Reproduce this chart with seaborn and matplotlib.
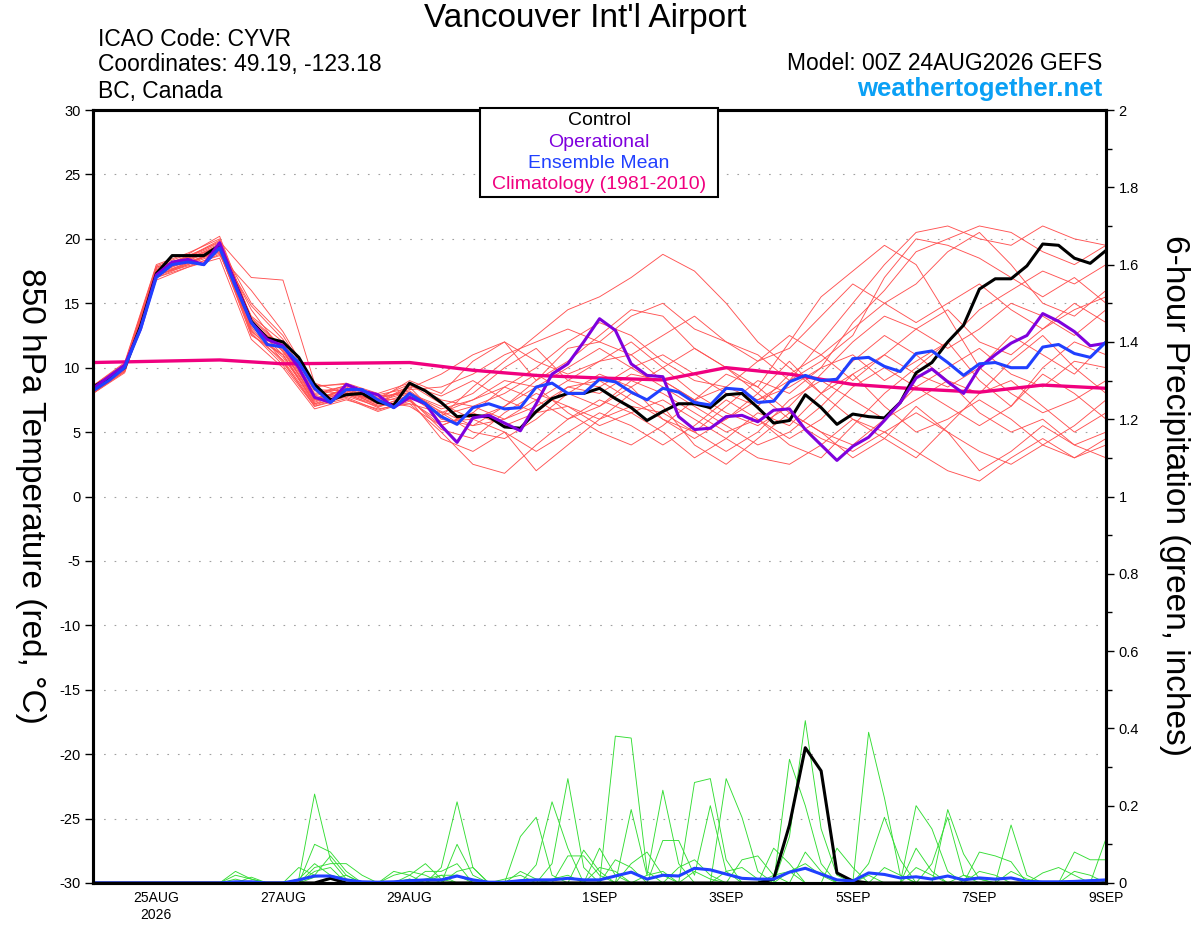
import matplotlib
matplotlib.use("Agg")
import matplotlib.pyplot as plt
from matplotlib.patches import Rectangle
from matplotlib.ticker import MultipleLocator, FuncFormatter
import pandas as pd
import seaborn as sns

# forecast hours from 00Z 24AUG2026
hours6 = list(range(0, 385, 6))
hours12 = list(range(0, 385, 12))
hours24 = list(range(0, 385, 24))

tick_hours = [24, 72, 120, 192, 240, 288, 336, 384]
tick_labels = ["25AUG\n2026", "27AUG", "29AUG", "1SEP", "3SEP", "5SEP", "7SEP", "9SEP"]

# 850 hPa temperature, 6-hourly (deg C)
control_t = [8.5, 9.2, 10.0, 13.2, 17.3, 18.7, 18.7, 18.7,
             19.5, 16.5, 13.6, 12.3, 12.0, 10.8, 8.7, 7.5,
             7.9, 8.0, 7.3, 7.1, 8.8, 8.2, 7.3, 6.2,
             6.3, 6.2, 5.4, 5.3, 6.6, 7.6, 8.0, 8.0,
             8.4, 7.6, 6.9, 5.9, 6.6, 7.2, 7.2, 6.9,
             7.9, 8.0, 6.9, 5.7, 5.9, 7.9, 6.9, 5.6,
             6.4, 6.2, 6.1, 7.3, 9.6, 10.4, 12.0, 13.3,
             16.1, 16.9, 16.9, 17.9, 19.6, 19.5, 18.5, 18.1,
             19.1]
oper_t = [8.4, 9.3, 10.2, 13.0, 17.2, 18.2, 18.4, 18.0,
          19.7, 16.5, 13.5, 12.2, 11.7, 10.0, 7.7, 7.3,
          8.7, 8.2, 7.9, 6.9, 7.7, 7.2, 5.5, 4.2,
          6.1, 6.3, 5.7, 5.1, 7.2, 9.5, 10.3, 12.0,
          13.8, 12.9, 10.3, 9.4, 9.3, 6.2, 5.2, 5.3,
          6.2, 6.3, 5.8, 6.7, 6.8, 5.2, 4.0, 2.8,
          3.9, 4.6, 5.9, 7.3, 9.2, 9.9, 8.9, 8.0,
          10.0, 11.0, 11.9, 12.5, 14.2, 13.6, 12.8, 11.7,
          11.9]
mean_t = [8.2, 9.0, 10.0, 13.0, 17.0, 18.0, 18.2, 18.0,
          19.3, 16.3, 13.5, 11.8, 11.6, 10.4, 8.4, 7.3,
          8.3, 8.3, 7.5, 6.9, 8.0, 7.2, 6.2, 5.6,
          6.9, 7.2, 6.8, 6.9, 8.5, 8.8, 8.0, 8.0,
          9.1, 8.9, 8.1, 7.5, 8.4, 8.1, 7.3, 7.1,
          8.4, 8.3, 7.3, 7.4, 8.9, 9.4, 9.0, 9.1,
          10.7, 10.8, 10.1, 9.7, 11.1, 11.3, 10.4, 9.4,
          10.3, 10.4, 10.0, 10.0, 11.6, 11.8, 11.1, 10.8,
          12.0]
# climatology, daily
clim_t = [10.4, 10.5, 10.6, 10.3, 10.35, 10.4, 9.8, 9.4, 9.2,
          9.05, 10.0, 9.5, 8.7, 8.35, 8.1, 8.65, 8.4]

# ensemble members, 12-hourly
m01 = [8.0, 9.8, 17.2, 18.0, 19.2, 12.8, 11.0, 7.5, 8.4, 7.2, 8.5, 6.0, 5.5, 7.0, 9.0, 11.5, 12.0,
       14.0, 15.0, 13.0, 12.0, 11.0, 9.0, 12.0, 15.0, 18.0, 20.5, 21.0, 20.0, 19.5, 21.0, 20.0, 19.5]
m02 = [8.5, 10.2, 17.8, 18.6, 19.8, 17.0, 16.8, 8.8, 8.0, 7.5, 9.0, 8.0, 10.5, 12.0, 9.0, 10.5, 12.5,
       14.5, 14.0, 11.5, 10.0, 8.5, 12.0, 15.5, 17.5, 19.5, 18.0, 14.0, 10.0, 8.0, 6.5, 7.5, 9.0]
m03 = [8.2, 9.9, 17.0, 17.8, 18.8, 13.5, 10.5, 7.0, 7.8, 7.0, 7.5, 4.5, 3.5, 5.0, 2.0, 4.0, 6.0,
       8.0, 7.0, 4.0, 2.5, 4.5, 6.5, 5.0, 3.0, 4.5, 7.0, 5.0, 2.0, 3.5, 5.5, 4.0, 3.0]
m04 = [8.4, 10.1, 17.6, 18.4, 19.4, 14.0, 12.0, 8.0, 8.6, 7.8, 8.0, 7.0, 8.0, 10.0, 11.5, 9.0, 8.5,
       10.0, 11.0, 9.5, 8.0, 7.0, 9.5, 11.0, 13.0, 15.0, 16.5, 19.0, 20.5, 18.0, 15.0, 14.0, 16.0]
m05 = [8.1, 9.7, 17.1, 18.1, 19.0, 12.5, 11.0, 7.2, 8.2, 7.4, 7.0, 5.5, 6.5, 8.5, 7.5, 6.0, 7.0,
       9.0, 8.0, 6.5, 5.0, 6.0, 4.0, 3.0, 5.5, 8.0, 10.0, 12.0, 9.0, 7.0, 10.0, 12.0, 11.0]
m06 = [8.3, 10.0, 17.4, 18.5, 19.5, 15.0, 12.5, 8.5, 8.8, 8.0, 8.8, 7.5, 7.0, 6.0, 7.5, 9.0, 10.5,
       12.0, 10.0, 8.0, 6.5, 5.5, 7.0, 9.5, 12.0, 14.0, 13.0, 11.5, 13.0, 15.0, 14.0, 12.5, 14.5]
m07 = [8.6, 10.3, 17.9, 18.8, 20.2, 13.8, 11.5, 7.8, 8.5, 7.6, 8.2, 6.5, 5.0, 4.5, 6.0, 8.0, 9.5,
       8.5, 6.0, 4.5, 6.0, 8.0, 10.5, 8.0, 6.0, 5.0, 3.5, 2.0, 1.2, 3.0, 4.5, 3.0, 4.5]
m08 = [8.0, 9.6, 16.8, 17.8, 18.5, 12.2, 10.0, 6.8, 7.5, 6.8, 7.2, 5.0, 2.5, 1.8, 4.0, 6.0, 7.5,
       6.5, 5.0, 3.0, 4.5, 6.5, 5.5, 8.0, 10.5, 12.5, 11.0, 9.0, 8.0, 10.5, 12.5, 10.0, 8.0]
m09 = [8.4, 10.1, 17.5, 18.2, 19.1, 13.2, 11.8, 8.2, 8.0, 7.2, 8.0, 6.8, 7.5, 9.0, 8.5, 10.0, 11.5,
       10.0, 8.5, 7.0, 5.5, 4.0, 5.0, 7.0, 9.5, 7.0, 5.0, 6.0, 7.5, 6.0, 4.0, 5.5, 7.5]
m10 = [8.2, 9.9, 17.3, 18.3, 19.3, 14.5, 11.2, 7.6, 8.3, 7.0, 7.8, 6.2, 8.5, 10.5, 12.5, 14.5, 15.5,
       17.0, 18.8, 17.5, 15.0, 12.0, 10.0, 8.0, 9.5, 11.0, 9.5, 8.5, 10.0, 12.5, 11.0, 9.5, 12.0]
m11 = [8.3, 10.0, 17.6, 18.6, 19.6, 13.0, 10.8, 7.4, 8.1, 7.3, 8.6, 7.8, 9.0, 7.5, 6.5, 8.5, 9.0,
       7.5, 6.0, 5.0, 7.0, 9.0, 8.0, 10.0, 13.5, 16.0, 19.0, 20.0, 21.0, 20.5, 19.0, 18.0, 19.5]
m12 = [8.5, 10.2, 17.7, 18.7, 19.7, 12.7, 10.2, 7.0, 7.6, 6.6, 7.4, 5.8, 6.0, 5.0, 3.5, 5.0, 6.5,
       5.5, 4.0, 5.5, 7.5, 6.0, 4.5, 6.0, 8.5, 10.0, 8.5, 7.0, 5.5, 7.0, 9.5, 8.0, 6.0]
m13 = [8.1, 9.8, 17.2, 17.9, 18.7, 16.0, 12.8, 8.6, 8.7, 7.9, 8.4, 9.5, 11.0, 12.0, 10.5, 9.5, 10.5,
       11.0, 12.5, 14.0, 12.0, 10.5, 11.5, 14.0, 16.5, 15.0, 13.5, 15.0, 16.5, 14.5, 13.0, 14.5, 15.5]
m14 = [8.4, 10.0, 17.4, 18.4, 19.2, 13.4, 11.0, 7.3, 8.4, 7.5, 7.6, 5.2, 4.5, 6.5, 8.0, 7.0, 5.5,
       6.5, 7.5, 6.0, 4.5, 3.0, 2.5, 4.0, 6.0, 4.5, 3.0, 5.5, 8.0, 9.0, 7.0, 5.0, 6.5]
m15 = [8.2, 9.8, 17.0, 18.0, 18.9, 12.9, 10.4, 7.1, 7.9, 7.1, 7.2, 6.5, 7.5, 8.5, 10.0, 12.0, 13.5,
       12.5, 10.5, 9.0, 8.5, 10.5, 12.5, 11.0, 9.0, 11.0, 13.0, 14.5, 12.0, 11.0, 13.0, 15.0, 13.5]
m16 = [8.6, 10.4, 18.0, 18.9, 20.0, 13.9, 11.6, 7.9, 8.6, 7.7, 8.7, 7.2, 6.0, 7.0, 8.5, 6.5, 5.0,
       4.0, 5.5, 7.5, 9.5, 8.5, 6.5, 5.0, 4.0, 6.0, 8.5, 10.0, 11.5, 9.5, 8.5, 10.5, 10.0]
m17 = [8.0, 9.7, 17.1, 18.2, 19.0, 14.8, 12.2, 8.3, 8.2, 7.4, 8.1, 6.3, 7.0, 8.0, 9.5, 8.0, 7.0,
       8.5, 10.0, 11.5, 10.0, 8.0, 6.0, 4.5, 3.5, 5.0, 6.5, 5.0, 3.5, 2.5, 4.0, 3.0, 4.0]
m18 = [8.3, 10.1, 17.5, 18.5, 19.4, 13.1, 11.3, 7.7, 8.0, 6.9, 7.9, 6.6, 5.5, 6.0, 7.0, 8.5, 8.0,
       9.5, 9.0, 7.5, 8.5, 7.5, 8.5, 10.0, 11.0, 9.0, 10.5, 12.0, 14.5, 16.0, 17.5, 16.5, 18.0]
m19 = [8.5, 10.2, 17.8, 18.6, 19.9, 13.6, 11.4, 7.5, 8.3, 7.6, 8.3, 8.5, 9.5, 11.0, 12.0, 13.0, 12.0,
       11.0, 9.0, 7.5, 6.0, 7.5, 9.0, 10.5, 12.5, 17.0, 20.0, 19.5, 18.5, 17.0, 15.5, 17.0, 15.0]
m20 = [8.2, 9.9, 17.3, 18.1, 19.1, 12.6, 10.6, 7.2, 7.7, 6.7, 7.5, 5.5, 6.5, 5.5, 6.5, 7.0, 6.0,
       7.0, 6.5, 5.0, 3.5, 5.0, 7.5, 9.0, 7.5, 6.0, 7.5, 9.0, 6.5, 5.0, 6.0, 4.0, 5.0]
temp_members = [m01, m02, m03, m04, m05, m06, m07, m08, m09, m10,
                m11, m12, m13, m14, m15, m16, m17, m18, m19, m20]

# 6-hour precipitation (inches), 6-hourly
control_p = [0, 0, 0, 0, 0, 0, 0, 0,
             0, 0, 0, 0, 0, 0, 0, .012,
             0, 0, 0, 0, 0, 0, 0, 0,
             0, 0, 0, 0, 0, 0, 0, 0,
             0, 0, 0, 0, 0, 0, 0, 0,
             0, 0, 0, .01, .15, .35, .29, .026,
             .005, 0, 0, 0, 0, 0, 0, 0,
             0, 0, 0, 0, 0, 0, 0, 0,
             0]
mean_p = [0, 0, 0, 0, 0, 0, 0, 0,
          0, .003, .003, 0, 0, .008, .018, .018,
          .008, .003, .002, .003, .006, .008, .008, .018,
          .008, .002, .002, .006, .008, .008, .012, .008,
          .008, .018, .028, .010, .020, .018, .038, .034,
          .023, .012, .010, .010, .028, .038, .023, .008,
          .005, .026, .022, .013, .016, .010, .018, .008,
          .013, .010, .013, .004, .003, .003, .004, .006,
          .008]
g1 = [0, 0, 0, 0, 0, 0, 0, 0,
      0, .03, .01, 0, 0, .01, .23, .06,
      .01, 0, 0, 0, .02, .05, .01, 0,
      0, 0, 0, 0, 0, .05, .27, .04,
      0, .38, .375, .03, 0, 0, .03, .01,
      0, 0, 0, 0, .12, .42, .14, .02,
      0, 0, 0, 0, .09, .03, 0, 0,
      0, 0, .15, .02, 0, 0, 0, 0,
      0]
g2 = [0, 0, 0, 0, 0, 0, 0, 0,
      0, .02, .01, 0, 0, 0, .10, .08,
      .03, 0, 0, 0, .01, 0, .04, .21,
      .04, 0, 0, .12, .17, .02, 0, 0,
      0, 0, .19, .02, .24, .05, 0, 0,
      .27, .17, .03, 0, 0, 0, 0, 0,
      0, .39, .22, .02, 0, 0, 0, 0,
      .08, .07, .055, 0, 0, 0, .08, .06,
      .06]
g3 = [0, 0, 0, 0, 0, 0, 0, 0,
      0, 0, 0, 0, 0, 0, .04, .05,
      .05, .02, 0, .03, .02, 0, 0, .10,
      .02, 0, 0, 0, .047, .21, .09, 0,
      .09, .02, 0, 0, 0, 0, .26, .27,
      .06, 0, 0, 0, .32, .20, .05, 0,
      0, 0, 0, 0, .20, .14, .03, 0,
      0, 0, 0, 0, .026, .04, .02, 0,
      .115]
g4 = [0, 0, 0, 0, 0, 0, 0, 0,
      0, .01, 0, 0, 0, .04, .02, .07,
      .02, 0, 0, 0, 0, .03, .03, .05,
      0, 0, 0, 0, 0, 0, 0, .085,
      .03, 0, 0, 0, .11, .11, .02, .20,
      .03, 0, 0, .09, .05, 0, 0, 0,
      0, .05, .17, .06, 0, 0, .19, .075,
      .01, 0, 0, 0, 0, 0, 0, 0,
      0]
g5 = [0, 0, 0, 0, 0, 0, 0, 0,
      0, 0, .015, 0, 0, 0, .03, .04,
      0, 0, 0, .02, .03, .02, 0, .03,
      .04, 0, 0, 0, 0, 0, .07, .07,
      .02, 0, .05, .08, .02, 0, 0, 0,
      0, .06, .07, .02, 0, 0, 0, .09,
      .04, 0, 0, 0, 0, .05, .17, .02,
      0, 0, .03, .01, 0, 0, 0, 0,
      0]
g6 = [0, 0, 0, 0, 0, 0, 0, 0,
      0, 0, 0, 0, 0, 0, .015, .02,
      .01, 0, 0, 0, 0, 0, .02, .02,
      0, 0, 0, .03, .01, 0, 0, 0,
      .04, .03, 0, 0, 0, .04, .06, .02,
      0, 0, 0, 0, .03, .05, .02, 0,
      0, 0, .04, .02, 0, 0, 0, 0,
      .03, .02, 0, 0, 0, 0, 0, 0,
      0]
g7 = [0, 0, 0, 0, 0, 0, 0, 0,
      0, 0, 0, 0, 0, .01, .05, .02,
      0, 0, 0, 0, 0, .01, .02, 0,
      0, 0, .01, .02, 0, 0, 0, 0,
      0, .06, .04, 0, 0, 0, 0, 0,
      .03, .04, .01, 0, 0, .08, .03, 0,
      0, 0, 0, 0, .04, .02, 0, 0,
      0, 0, 0, 0, 0, 0, .03, .02,
      0]
g8 = [0, 0, 0, 0, 0, 0, 0, 0,
      0, 0, 0, 0, 0, 0, 0, .01,
      .02, 0, 0, 0, .01, 0, 0, 0,
      0, 0, 0, 0, 0, .01, .02, 0,
      0, 0, 0, .02, .03, 0, 0, 0,
      0, 0, 0, .02, .03, 0, 0, 0,
      0, .02, 0, 0, 0, 0, 0, .02,
      .01, 0, 0, 0, 0, 0, 0, 0,
      0]
precip_members = [g1, g2, g3, g4, g5, g6, g7, g8]

# long tables for seaborn
temp_df = pd.DataFrame(
    [(k, h, v) for k, vals in enumerate(temp_members) for h, v in zip(hours12, vals)],
    columns=["member", "hour", "t850"])
prcp_df = pd.DataFrame(
    [(k, h, v) for k, vals in enumerate(precip_members) for h, v in zip(hours6, vals)],
    columns=["member", "hour", "precip"])

sns.set_style("white")
plt.rcParams["font.family"] = ["Liberation Sans", "DejaVu Sans"]
plt.rcParams["text.color"] = "black"
plt.rcParams["xtick.color"] = "black"
plt.rcParams["ytick.color"] = "black"
plt.rcParams["axes.unicode_minus"] = False

fig = plt.figure(figsize=(12, 9.27), dpi=100)
ax = fig.add_axes([0.0775, 0.0475, 0.8442, 0.8338])
ax2 = ax.twinx()

# temperature
sns.lineplot(data=temp_df, x="hour", y="t850", units="member", estimator=None,
             color="#ff5252", lw=0.65, ax=ax, legend=False)
sns.lineplot(x=hours24, y=clim_t, color="#f0007f", lw=2.4, ax=ax, estimator=None)
sns.lineplot(x=hours6, y=control_t, color="black", lw=2.2, ax=ax, estimator=None)
sns.lineplot(x=hours6, y=oper_t, color="#7f00dd", lw=2.2, ax=ax, estimator=None)
sns.lineplot(x=hours6, y=mean_t, color="#2040ff", lw=2.2, ax=ax, estimator=None)

# precipitation
sns.lineplot(data=prcp_df, x="hour", y="precip", units="member", estimator=None,
             color="#33dd33", lw=0.65, ax=ax2, legend=False)
sns.lineplot(x=hours6, y=control_p, color="black", lw=2.2, ax=ax2, estimator=None)
sns.lineplot(x=hours6, y=mean_p, color="#2040ff", lw=2.2, ax=ax2, estimator=None)

ax.set_xlim(0, 384)
ax.set_ylim(-30, 30)
ax2.set_ylim(0, 2)
ax.set_xticks(tick_hours)
ax.set_xticklabels(tick_labels)
ax.set_yticks(range(-30, 31, 5))
ax.set_xlabel("")
ax.set_ylabel("")
ax2.set_ylabel("")
ax.yaxis.grid(True, linestyle=(0, (1.5, 8)), color="#a0a0a0", lw=0.8)
ax.xaxis.grid(False)
ax2.grid(False)

ax2.yaxis.set_major_locator(MultipleLocator(0.2))
ax2.yaxis.set_minor_locator(MultipleLocator(0.1))
ax2.yaxis.set_major_formatter(FuncFormatter(lambda v, p: "%g" % round(v, 1)))

ax.tick_params(axis="y", direction="out", length=6, width=1, labelsize=10.5, pad=3, left=True)
ax.tick_params(axis="x", length=0, labelsize=10, pad=6)
ax2.tick_params(axis="y", which="major", direction="out", length=6, width=1, labelsize=10.5, pad=3, right=True)
ax2.tick_params(axis="y", which="minor", direction="out", length=4, width=1, right=True)

for a in (ax, ax2):
    for s in a.spines.values():
        s.set_visible(True)
        s.set_color("black")
        s.set_linewidth(2.2)

# legend box
fig.patches.append(Rectangle((0.400, 0.7875), 0.1983, 0.096, transform=fig.transFigure,
                             fill=True, facecolor="white", edgecolor="black", lw=1.5, zorder=5))
legend_items = [("Control", "black"), ("Operational", "#7f00dd"),
                ("Ensemble Mean", "#2040ff"), ("Climatology (1981-2010)", "#f0007f")]
for k, (label, col) in enumerate(legend_items):
    fig.text(0.4992, 0.8695 - k * 0.0229, label, color=col, fontsize=14,
             ha="center", va="center", zorder=6)

# titles and header text
fig.text(0.4875, 0.980, "Vancouver Int'l Airport", fontsize=24, ha="center", va="center")
fig.text(0.0817, 0.957, "ICAO Code: CYVR", fontsize=16.5, ha="left", va="center")
fig.text(0.0817, 0.930, "Coordinates: 49.19, -123.18", fontsize=16.5, ha="left", va="center")
fig.text(0.0817, 0.901, "BC, Canada", fontsize=16.5, ha="left", va="center")
fig.text(0.9183, 0.932, "Model: 00Z 24AUG2026 GEFS", fontsize=16.5, ha="right", va="center")
fig.text(0.9183, 0.904, "weathertogether.net", fontsize=18.5, fontweight="bold",
         color="#0aa0f5", ha="right", va="center")

fig.text(0.025, 0.465, "850 hPa Temperature (red, \u00b0C)", fontsize=24, rotation=270,
         ha="center", va="center")
fig.text(0.979, 0.465, "6-hour Precipitation (green, inches)", fontsize=24, rotation=270,
         ha="center", va="center")

fig.savefig("out.png", dpi=100)
